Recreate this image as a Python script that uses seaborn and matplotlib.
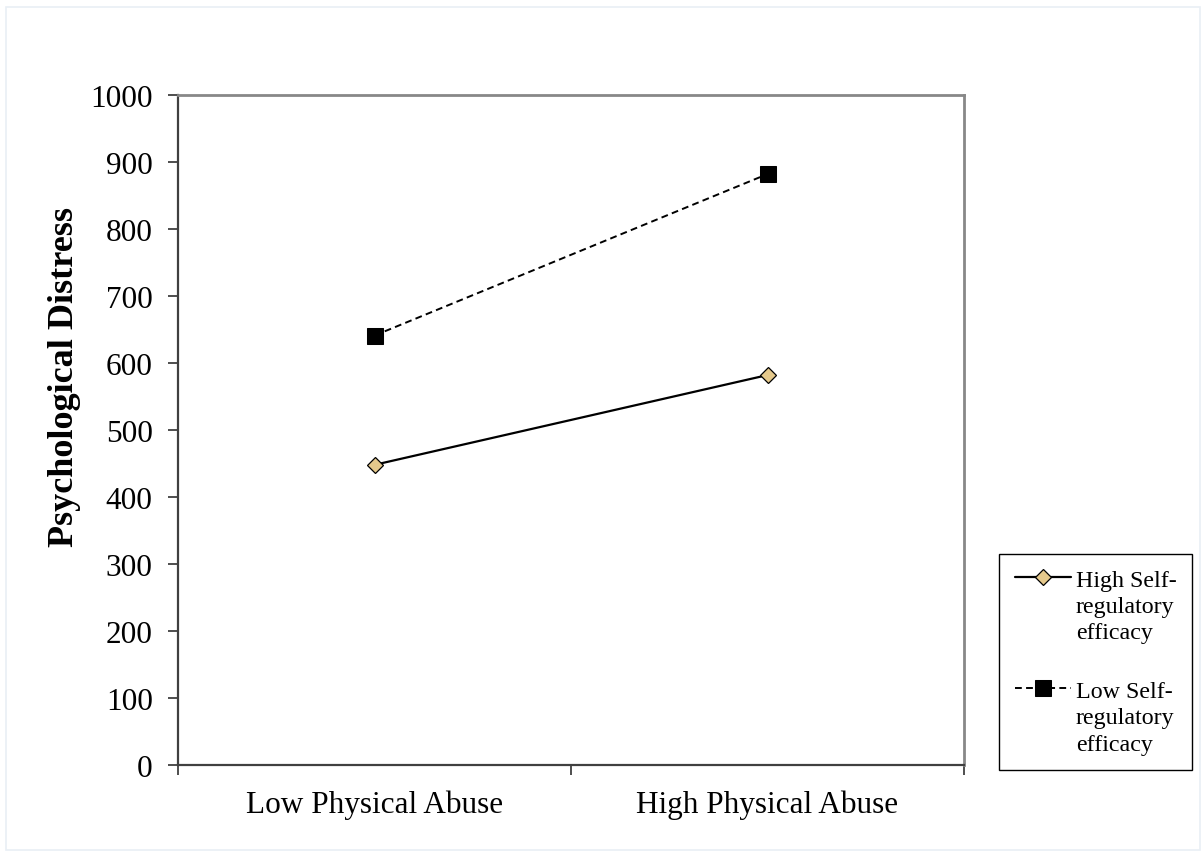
import numpy as np
import pandas as pd
import matplotlib
matplotlib.use("Agg")
import matplotlib.pyplot as plt
from matplotlib.legend_handler import HandlerLine2D
from matplotlib.patches import Rectangle
import seaborn as sns

# Interaction: psychological distress by physical abuse level and self-regulatory efficacy
abuse_levels = ["Low Physical Abuse", "High Physical Abuse"]
high_sre = [448, 582]
low_sre = [641, 882]
series_names = ["High Self-\nregulatory\nefficacy", "Low Self-\nregulatory\nefficacy"]
y_ticks = [0, 100, 200, 300, 400, 500, 600, 700, 800, 900, 1000]

df = pd.DataFrame({
    "abuse": abuse_levels * 2,
    "distress": high_sre + low_sre,
    "group": [series_names[0]] * 2 + [series_names[1]] * 2,
})

sns.set_theme(style="white")
plt.rcParams["font.family"] = ["Liberation Serif", "DejaVu Serif"]
plt.rcParams["text.color"] = "black"
plt.rcParams["xtick.color"] = "black"
plt.rcParams["ytick.color"] = "black"
plt.rcParams["axes.labelcolor"] = "black"

fig = plt.figure(figsize=(12.02, 8.53), dpi=100)
ax = fig.add_axes([178 / 1202, 1 - 766 / 853, 786 / 1202, 670 / 853])

# faint page border
fig.patches.append(Rectangle((6 / 1202, 2 / 853), 1194 / 1202, 843 / 853,
                             transform=fig.transFigure, fill=False,
                             edgecolor="#e9eff5", linewidth=1.2))

sns.lineplot(data=df[df["group"] == series_names[0]], x="abuse", y="distress",
             ax=ax, color="black", linewidth=1.6, linestyle="-",
             marker="D", markersize=8, markerfacecolor="#e5c98c",
             markeredgecolor="black", markeredgewidth=0.9,
             label=series_names[0], legend=False)
sns.lineplot(data=df[df["group"] == series_names[1]], x="abuse", y="distress",
             ax=ax, color="black", linewidth=1.4, linestyle=(0, (3.5, 2.2)),
             marker="s", markersize=11.5, markerfacecolor="black",
             markeredgecolor="black",
             label=series_names[1], legend=False)

ax.set_xlim(-0.5, 1.5)
ax.set_ylim(0, 1000)
ax.set_yticks(y_ticks)
ax.set_yticklabels([str(v) for v in y_ticks])
ax.set_xticks([-0.5, 0.5, 1.5])
ax.set_xticklabels([])
ax.set_xticks([0, 1], minor=True)
ax.set_xticklabels(abuse_levels, minor=True)
ax.tick_params(axis="x", which="minor", length=0, pad=18, labelsize=22.5,
               labelcolor="black")
ax.tick_params(axis="x", which="major", direction="out", length=7.2, width=1.3,
               color="#404040", bottom=True)
ax.tick_params(axis="y", direction="out", length=7.2, width=1.3, color="#404040",
               labelsize=22.5, pad=11, left=True, labelcolor="black")
ax.set_xlabel("")
ax.set_ylabel("Psychological Distress", fontsize=26, fontweight="bold",
              color="black")
ax.yaxis.set_label_coords(-0.123, 0.58)

for side in ["left", "bottom"]:
    ax.spines[side].set_color("#404040")
    ax.spines[side].set_linewidth(1.6)
for side in ["top", "right"]:
    ax.spines[side].set_color("#888888")
    ax.spines[side].set_linewidth(2.0)


class FirstLineHandler(HandlerLine2D):
    """Places the legend key level with the first line of a wrapped label."""

    def __init__(self, shift, **kw):
        super().__init__(**kw)
        self.shift = shift

    def create_artists(self, legend, orig_handle, xdescent, ydescent, width,
                       height, fontsize, trans):
        arts = super().create_artists(legend, orig_handle, xdescent, ydescent,
                                      width, height, fontsize, trans)
        for a in arts:
            a.set_ydata(np.asarray(a.get_ydata(), dtype=float) + self.shift * fontsize)
        return arts


legend_handles = [h for h in ax.get_lines() if h.get_label() in series_names]
leg = fig.legend(legend_handles, [h.get_label() for h in legend_handles],
                 loc="upper left", bbox_to_anchor=(999 / 1202, 1 - 555 / 853),
                 bbox_transform=fig.transFigure, fontsize=17.3, frameon=True,
                 fancybox=False, edgecolor="black", framealpha=1,
                 handlelength=2.35, handletextpad=0.2, borderpad=0.65,
                 labelspacing=1.6, borderaxespad=0,
                 handler_map={h: FirstLineHandler(1.22) for h in legend_handles})
leg.get_frame().set_linewidth(1.0)
for t in leg.get_texts():
    t.set_color("black")
    t.set_linespacing(1.32)

fig.savefig("out.png", dpi=100, facecolor="white")
